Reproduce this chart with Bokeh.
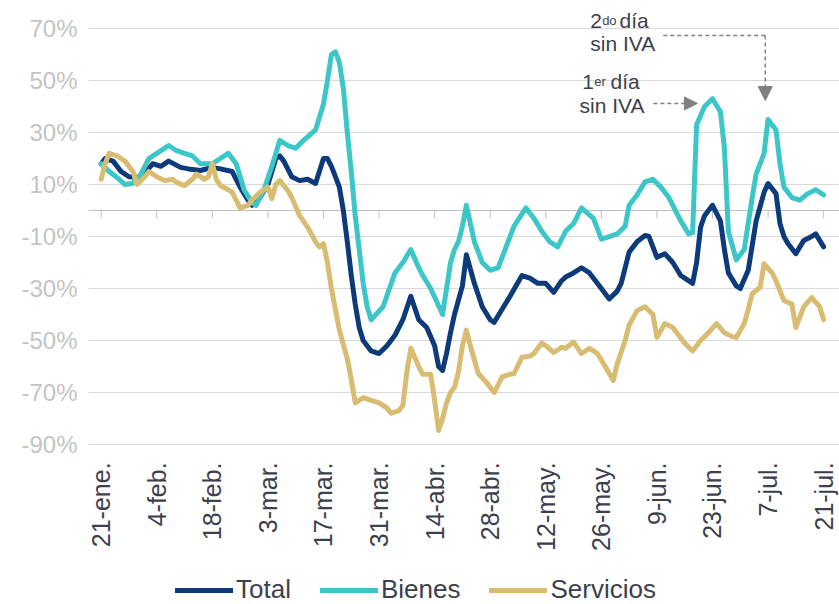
import math
from bokeh.plotting import figure
from bokeh.models import (FixedTicker, Grid, Label, Arrow, NormalHead, Legend,
                          LegendItem, Range1d)
from bokeh.embed import file_html
from bokeh.resources import INLINE

# ---------------- data ----------------
# x values are days counted from 21-ene (2020)
tick_days = [0, 14, 28, 42, 56, 70, 84, 98, 112, 126, 140, 154, 168, 182]
tick_labels = ["21-ene.", "4-feb.", "18-feb.", "3-mar.", "17-mar.", "31-mar.",
               "14-abr.", "28-abr.", "12-may.", "26-may.", "9-jun.", "23-jun.",
               "7-jul.", "21-jul."]
y_ticks = [-90, -70, -50, -30, -10, 10, 30, 50, 70]
y_tick_labels = ["-90%", "-70%", "-50%", "-30%", "-10%", "10%", "30%", "50%", "70%"]

total_days = [0, 1, 3, 5, 7, 10, 13, 15, 17, 20, 22, 25, 28, 30, 33, 35, 37, 38, 40,
              42, 44, 45, 46, 48, 50, 52, 54, 56, 57, 58, 59, 60, 61, 62, 63, 64, 65,
              66, 68, 70, 72, 74, 76, 78, 80, 82, 84, 85, 86, 87, 88, 89, 91, 92, 94,
              96, 98, 99, 101, 103, 106, 108, 110, 112, 114, 116, 117, 119, 121, 123,
              125, 127, 128, 130, 131, 133, 135, 137, 138, 140, 142, 144, 146, 147,
              149, 150, 151, 152, 154, 156, 157, 158, 160, 161, 163, 165, 167, 168,
              170, 171, 172, 173, 175, 176, 177, 179, 180, 182]
total_vals = [18, 20, 19, 15, 13, 12.7, 18, 17, 19, 16.6, 16, 15.4, 16.6, 16, 15, 9,
              4, 2, 5, 10, 20, 21, 19, 13, 11.5, 12, 10.4, 20, 20, 17, 13, 9, 0, -12,
              -25, -36, -45, -50, -54, -55, -52, -48, -42, -33, -42, -45, -52, -60,
              -61.5, -55, -47, -40, -29, -17, -28, -37, -42, -43, -38, -33, -25, -26,
              -28, -28, -31.5, -27, -25.6, -24, -22, -24, -28, -32, -34, -31, -28,
              -16, -12, -9.6, -10, -18, -16.6, -20, -25, -26, -28, -20, -6.4, -2, 2,
              -4, -15, -24, -29, -30, -23, -4, 7, 10.4, 6.5, -5, -10, -12.7, -16.6,
              -14, -11.5, -10, -9, -14]

bienes_days = [0, 2, 4, 6, 8, 10, 12, 14, 17, 19, 21, 23, 25, 28, 30, 32, 34, 36, 38,
               39, 41, 43, 45, 47, 49, 51, 54, 55, 56, 57, 58, 59, 60, 61, 62, 63, 64,
               65, 66, 67, 68, 71, 74, 76, 78, 80, 81, 83, 86, 87, 88, 89, 90, 91, 92,
               94, 96, 98, 100, 102, 104, 107, 109, 111, 113, 115, 117, 119, 121, 124,
               126, 128, 130, 132, 133, 135, 137, 139, 141, 143, 145, 146, 148, 149,
               150, 152, 154, 156, 157, 158, 160, 162, 164, 165, 167, 168, 170, 171,
               172, 174, 176, 178, 180, 182]
bienes_vals = [18, 15, 12.7, 10, 10.5, 14, 20, 22, 25, 23, 22, 21, 18, 18, 20, 22, 18,
               8, 3, 2, 8, 17, 27, 25, 24, 27, 31, 36, 41, 50, 60, 61, 57, 47, 30, 15,
               -2, -15, -28, -37, -42, -37, -24, -20, -15, -22, -25, -30, -40, -30,
               -20, -15, -12, -6, 2, -12, -20, -23, -22, -14, -6, 1, -3, -8, -12, -14,
               -8, -5, 1, -3, -11, -10, -9, -6, 2, 6, 11, 12, 9, 5, -1, -4, -9, -8.5,
               33, 40, 43, 38, 24, -8, -19, -15, 5, 14, 22, 35, 31, 18, 9, 5, 4, 6.5,
               8, 6]

serv_days = [0, 1, 2, 4, 6, 8, 9, 11, 12, 14, 16, 18, 19, 21, 23, 24, 26, 27, 28, 29,
             30, 32, 33, 35, 37, 38, 40, 42, 43, 44, 45, 47, 48, 50, 52, 54, 55, 56,
             57, 58, 60, 62, 63, 64, 66, 68, 70, 72, 73, 75, 76, 77, 78, 80, 81, 83,
             84, 85, 86, 87, 88, 89, 90, 91, 92, 93, 95, 97, 99, 101, 103, 104, 106,
             108, 109, 111, 112, 114, 116, 117, 119, 121, 123, 125, 127, 129, 130,
             132, 133, 135, 137, 139, 140, 142, 144, 145, 147, 149, 151, 153, 155,
             157, 159, 160, 162, 163, 164, 166, 167, 169, 170, 172, 174, 175, 177,
             179, 181, 182]
serv_vals = [12, 18, 22, 21, 19, 15, 10, 13, 15, 13, 11.5, 12, 10.8, 9.6, 12, 14, 12,
             13, 18, 12, 9.6, 8, 7, 1, 2, 4, 7, 9, 4.6, 10, 11.5, 7.7, 5, -2, -6.4,
             -12, -14, -12.7, -20, -30, -46, -57, -65, -74, -72, -73, -74, -76, -78,
             -77, -75, -62, -53, -60, -63, -63, -73, -84.6, -80, -74, -70, -68, -62,
             -52, -46, -52, -62.7, -66, -70, -64, -63, -62.7, -56.4, -56, -55, -51,
             -52, -54.6, -52.6, -53, -50.6, -55, -53, -55, -60, -65.4, -59, -50, -44,
             -38.5, -37, -40, -48.8, -43.5, -45, -47, -51, -54, -50, -47, -43.5, -47,
             -48.5, -48.8, -43.5, -38, -32, -29.5, -20.5, -24, -27, -34.6, -36, -45,
             -37, -33.5, -37, -42]

series_names = ["Total", "Bienes", "Servicios"]
series_colors = ["#0d3a7a", "#3dc6c8", "#d8bc72"]

# ---------------- figure ----------------
# plot frame runs to the bottom/right of the window so the legend and the outer
# date labels (drawn inside it) are not clipped; grid lines are bounded to the
# data span and the date axis is pinned just under the -90% line.
Y_TOP = 77.7
Y_BOTTOM = Y_TOP - 596 / 2.6
AXIS_AT = -91.5
X_START, X_END = -3.2, 186.0
GRID_SPAN = (0, 183.3)

p = figure(frame_width=751, frame_height=596, output_backend="svg",
           toolbar_location=None,
           x_range=Range1d(X_START, X_END), y_range=Range1d(Y_BOTTOM, Y_TOP),
           min_border_left=88, min_border_right=0, min_border_top=8,
           min_border_bottom=0)
p.outline_line_color = None
p.background_fill_color = "white"
p.border_fill_color = "white"

FONT = "Liberation Sans"
TXT = "#3d3f4f"

# y axis
p.yaxis.ticker = FixedTicker(ticks=y_ticks)
p.yaxis.major_label_overrides = {t: l for t, l in zip(y_ticks, y_tick_labels)}
p.yaxis.axis_line_color = None
p.yaxis.major_tick_line_color = None
p.yaxis.major_tick_out = 0
p.yaxis.major_tick_in = 0
p.yaxis.minor_tick_line_color = None
p.yaxis.major_label_text_font = FONT
p.yaxis.major_label_text_font_size = "24px"
p.yaxis.major_label_text_color = "#c4c4c4"
p.yaxis.major_label_standoff = 11

# x axis (labels under the -90% line)
p.xaxis.fixed_location = AXIS_AT
p.xaxis.ticker = FixedTicker(ticks=tick_days)
p.xaxis.major_label_overrides = {t: l for t, l in zip(tick_days, tick_labels)}
p.xaxis.major_label_orientation = math.pi / 2
p.xaxis.axis_line_color = None
p.xaxis.major_tick_line_color = None
p.xaxis.major_tick_out = 0
p.xaxis.major_tick_in = 0
p.xaxis.minor_tick_line_color = None
p.xaxis.major_label_text_font = FONT
p.xaxis.major_label_text_font_size = "25px"
p.xaxis.major_label_text_color = TXT
p.xaxis.major_label_standoff = 14

# grid
p.xgrid.grid_line_color = None
p.ygrid.ticker = FixedTicker(ticks=y_ticks)
p.ygrid.bounds = GRID_SPAN
p.ygrid.grid_line_color = "#d9d9d9"
p.ygrid.grid_line_width = 1

# zero axis line with tick marks
p.add_layout(Grid(dimension=1, ticker=FixedTicker(ticks=[0]), bounds=GRID_SPAN,
                  grid_line_color="#bfbfbf", grid_line_width=1))
p.segment(x0=tick_days, y0=[0] * len(tick_days), x1=tick_days,
          y1=[-3] * len(tick_days), line_color="#bfbfbf", line_width=1)

# series
renderers = []
for days, vals, color in [(total_days, total_vals, series_colors[0]),
                          (bienes_days, bienes_vals, series_colors[1]),
                          (serv_days, serv_vals, series_colors[2])]:
    r = p.line(days, vals, line_color=color, line_width=5,
               line_join="round", line_cap="round")
    renderers.append(r)

# legend at the bottom of the frame
legend = Legend(items=[LegendItem(label=n, renderers=[r])
                       for n, r in zip(series_names, renderers)],
                orientation="horizontal", location=(87, -1),
                background_fill_alpha=0, border_line_alpha=0,
                label_text_font=FONT, label_text_font_size="26px",
                label_text_color=TXT, glyph_width=58, glyph_height=24,
                label_height=24, label_standoff=3, spacing=29, padding=0, margin=0)
p.add_layout(legend)

# annotations
def lab(x, y, text, size="21px"):
    p.add_layout(Label(x=x, y=y, text=text, text_font=FONT, text_font_size=size,
                       text_color=TXT, text_baseline="alphabetic"))

lab(123.2, 73.0, "2")
lab(126.2, 73.0, "do", "13px")
lab(130.6, 73.0, "día")
lab(123.2, 64.2, "sin IVA")
lab(121.2, 49.5, "1")
lab(124.2, 49.5, "er", "13px")
lab(128.3, 49.5, "día")
lab(120.5, 40.3, "sin IVA")

ARW = "#808080"
p.add_layout(Arrow(end=None, x_start=141.6, y_start=67.3, x_end=167.3, y_end=67.3,
                   line_color=ARW, line_width=1.5, line_dash="4 3"))
p.add_layout(Arrow(end=NormalHead(size=14, fill_color=ARW, line_color=ARW),
                   x_start=167.3, y_start=67.3, x_end=167.3, y_end=42.3,
                   line_color=ARW, line_width=1.5, line_dash="4 3"))
p.add_layout(Arrow(end=NormalHead(size=13, fill_color=ARW, line_color=ARW),
                   x_start=139.1, y_start=41.2, x_end=150.2, y_end=41.2,
                   line_color=ARW, line_width=1.5, line_dash="4 3"))

open("out.html", "w").write(file_html(p, INLINE))
